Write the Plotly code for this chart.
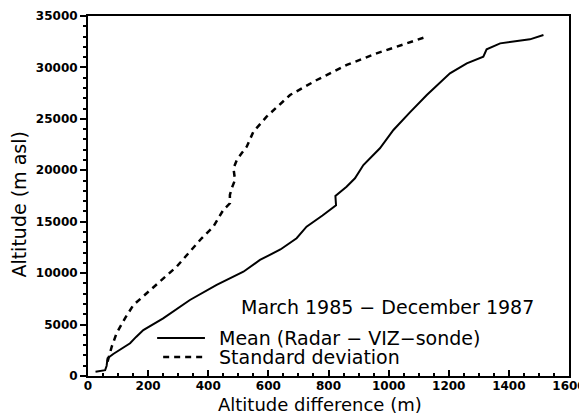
import plotly.graph_objects as go

# Mean (Radar - VIZ-sonde) altitude difference (m) vs altitude (m asl)
mean_diff = [25, 45, 57, 62, 65, 84, 110, 140, 160, 184, 250, 339, 428, 517, 572, 640, 694, 727,
             780, 825, 823, 860, 888, 916, 971, 1016, 1070, 1127, 1204, 1260, 1315, 1326, 1371,
             1470, 1515]
mean_alt = [420, 500, 570, 1000, 1720, 2140, 2600, 3180, 3800, 4470, 5600, 7390, 8850, 10140,
            11280, 12300, 13390, 14520, 15600, 16600, 17500, 18400, 19220, 20510, 22140, 23920,
            25600, 27320, 29430, 30400, 31040, 31760, 32340, 32730, 33150]

# Standard deviation
sd_diff = [65, 79, 95, 123, 151, 195, 240, 295, 334, 378, 417, 450, 472, 472, 478, 489, 484,
           495, 511, 528, 550, 594, 672, 761, 861, 960, 1127]
sd_alt = [1400, 2850, 4150, 5610, 6900, 8040, 9170, 10630, 11930, 13390, 14520, 16140, 16790,
          17600, 18250, 19060, 20190, 21000, 21650, 22290, 23750, 25210, 27320, 28780, 30240,
          31370, 32990]

period_text = "March 1985 − December 1987"
legend_labels = ["Mean (Radar − VIZ−sonde)", "Standard deviation"]
x_title = "Altitude difference (m)"
y_title = "Altitude (m asl)"

FONT = "DejaVu Sans"

fig = go.Figure()
fig.add_trace(go.Scatter(x=mean_diff, y=mean_alt, mode="lines",
                         line=dict(color="black", width=2), name=legend_labels[0],
                         showlegend=False))
fig.add_trace(go.Scatter(x=sd_diff, y=sd_alt, mode="lines",
                         line=dict(color="black", width=2.5, dash="6px,5px"),
                         name=legend_labels[1], showlegend=False))

# text block and legend drawn in data coordinates
fig.add_annotation(x=506, y=6710, text=period_text, showarrow=False, xanchor="left",
                   yanchor="middle", borderpad=0,
                   font=dict(family=FONT, size=19, color="black"))
fig.add_shape(type="line", x0=230, x1=389, y0=3694, y1=3694,
              line=dict(color="black", width=2))
fig.add_shape(type="line", x0=250, x1=389, y0=1847, y1=1847,
              line=dict(color="black", width=2.5, dash="6px,5px"))
fig.add_annotation(x=432, y=3694, text=legend_labels[0], showarrow=False, xanchor="left",
                   yanchor="middle", borderpad=0,
                   font=dict(family=FONT, size=19, color="black"))
fig.add_annotation(x=432, y=1847, text=legend_labels[1], showarrow=False, xanchor="left",
                   yanchor="middle", borderpad=0,
                   font=dict(family=FONT, size=19, color="black"))

# axis titles
fig.add_annotation(xref="paper", yref="paper", x=0.483, y=-0.0792, text=x_title,
                   showarrow=False, xanchor="center", yanchor="middle", borderpad=0,
                   font=dict(family=FONT, size=18, color="black"))
fig.add_annotation(xref="paper", yref="paper", x=-0.1435, y=0.476, text=y_title,
                   showarrow=False, xanchor="center", yanchor="middle", textangle=-90,
                   borderpad=0, font=dict(family=FONT, size=19, color="black"))

fig.update_layout(
    width=579, height=406,
    margin=dict(l=80, r=18, t=8, b=38),
    paper_bgcolor="white", plot_bgcolor="white",
    font=dict(family=FONT, color="black"),
    showlegend=False,
)
fig.update_xaxes(
    range=[0, 1600], tickmode="linear", tick0=0, dtick=200,
    ticks="inside", ticklen=6, tickwidth=2, tickcolor="black",
    minor=dict(ticks="inside", dtick=50, ticklen=3, tickwidth=1.5, tickcolor="black"),
    showline=True, linewidth=2, linecolor="black", mirror=True,
    showgrid=False, zeroline=False, ticklabelstandoff=-2,
    tickfont=dict(family=FONT, size=12, color="black", weight="bold"),
    automargin=False,
)
fig.update_yaxes(
    range=[0, 35000], tickmode="linear", tick0=0, dtick=5000, tickformat="d",
    ticks="outside", ticklen=6, tickwidth=2, tickcolor="black",
    minor=dict(ticks="outside", dtick=1000, ticklen=3, tickwidth=1.5, tickcolor="black"),
    showline=True, linewidth=2, linecolor="black", mirror=True,
    showgrid=False, zeroline=False,
    tickfont=dict(family=FONT, size=12, color="black", weight="bold"),
    automargin=False,
)

fig.write_html("out.html")
